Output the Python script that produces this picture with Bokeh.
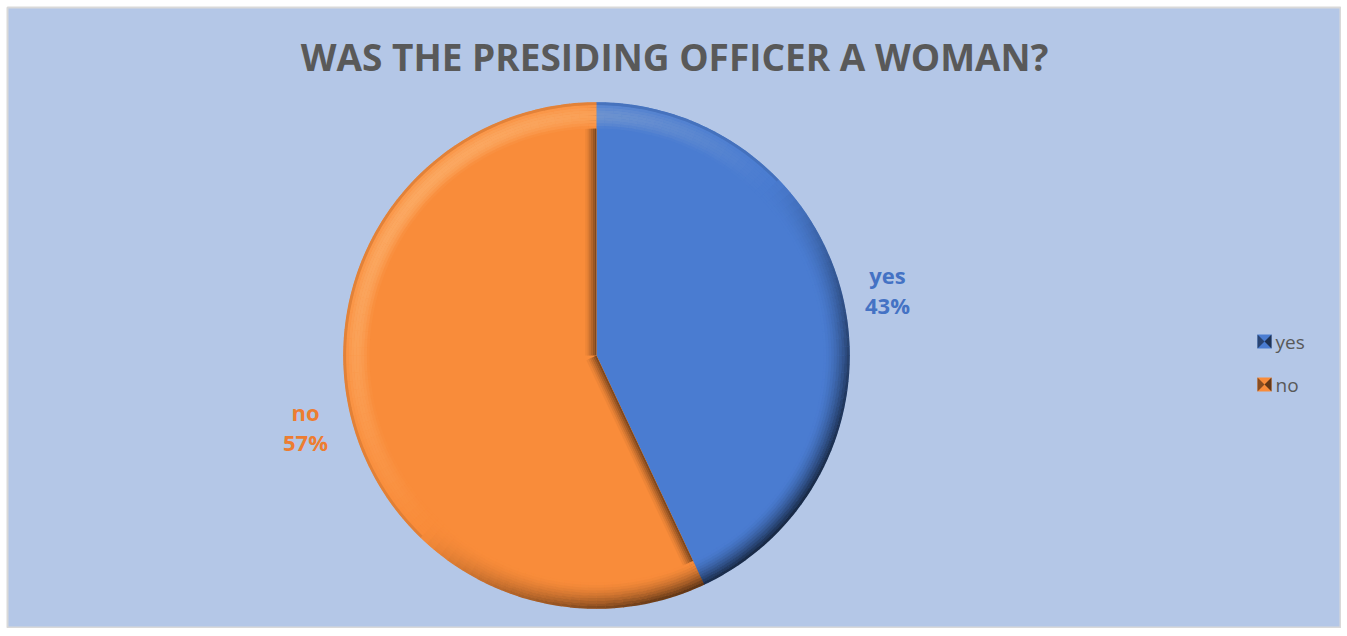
import math
from bokeh.plotting import figure
from bokeh.models import Range1d, ColumnDataSource
from bokeh.core.properties import value
from bokeh.embed import file_html
from bokeh.resources import INLINE

# ---- data ----
title = "WAS THE PRESIDING OFFICER A WOMAN?"
categories = ["yes", "no"]
percents = [43, 57]
colors = ["#4A7CD1", "#F98C3A"]
label_colors = ["#4472C4", "#ED7D31"]

W, H = 1341, 628
OFF = 7
BG = "#B4C7E7"
FONT = "Open Sans"

def iy(img_y):
    return 636 - img_y

p = figure(width=W, height=H, output_backend="svg", toolbar_location=None,
           x_range=Range1d(OFF, W), y_range=Range1d(636 - H, 636 - OFF),
           x_axis_location=None, y_axis_location=None,
           min_border_left=OFF, min_border_top=OFF, min_border_right=0, min_border_bottom=0)
p.grid.visible = False
p.background_fill_color = BG
p.border_fill_color = "white"
p.outline_line_color = "#D9D9D9"
p.outline_line_width = 2

cx, cy, R = 596, iy(355), 253

def hex2rgb(h):
    h = h.lstrip("#")
    return [int(h[i:i + 2], 16) for i in (0, 2, 4)]

def rgb2hex(c):
    return "#%02x%02x%02x" % tuple(max(0, min(255, int(round(v)))) for v in c)

def mix(a, b, t):
    return [a[i] + (b[i] - a[i]) * t for i in range(3)]

# slice angles (clockwise from 12 o'clock)
total = sum(percents)
starts, ends = [], []
a = math.pi / 2
for v in percents:
    starts.append(a)
    a = a - 2 * math.pi * v / total
    ends.append(a)

src = ColumnDataSource(dict(start=starts, end=ends, color=colors))
p.wedge(x=cx, y=cy, radius=R, start_angle="start", end_angle="end",
        direction="clock", fill_color="color", line_color=None, source=src)

# radial edge bevels on the "no" slice side
no_base = hex2rgb(colors[1])
dark = [c * 0.35 for c in no_base]
xs_l, ys_l, cs_l = [], [], []
for phi, side in ((starts[0], 1), (ends[0], -1)):
    ux, uy = math.cos(phi), math.sin(phi)
    if side == 1:
        px_, py_ = -uy, ux
    else:
        px_, py_ = uy, -ux
    NS = 6
    for k in range(NS):
        o1, o2 = k * 1.8, (k + 1) * 1.8 + 0.4
        L1 = math.sqrt(R * R - o1 * o1) - 4
        L2 = math.sqrt(R * R - o2 * o2) - 4
        xs_l.append([cx + px_ * o1, cx + ux * L1 + px_ * o1,
                     cx + ux * L2 + px_ * o2, cx + px_ * o2])
        ys_l.append([cy + py_ * o1, cy + uy * L1 + py_ * o1,
                     cy + uy * L2 + py_ * o2, cy + py_ * o2])
        cs_l.append(rgb2hex(mix(no_base, dark, 0.75 * (1 - k / NS) ** 1.3)))
p.patches(xs=xs_l, ys=ys_l, fill_color=cs_l, line_color=None)

# rim bevel shading
def slice_of(theta):
    off = (math.pi / 2 - theta) % (2 * math.pi)
    acc = 0
    for i, v in enumerate(percents):
        acc += 2 * math.pi * v / total
        if off < acc:
            return i
    return len(percents) - 1

rim = dict(ir=[], orad=[], s=[], e=[], c=[])
NR = 10
RW = 26
nseg = 180
seg = 2 * math.pi / nseg
bounds = [s % (2 * math.pi) for s in starts]
for k in range(NR):
    r0 = R - RW + RW * k / NR
    r1 = R - RW + RW * (k + 1) / NR
    t = (k + 0.5) / NR
    # split segments at slice boundaries so colours do not leak across
    cuts = sorted(set([j * seg for j in range(nseg)] + bounds + [2 * math.pi]))
    for j in range(len(cuts) - 1):
        s, e = cuts[j], cuts[j + 1]
        if e - s < 1e-6:
            continue
        mid = (s + e) / 2
        base = hex2rgb(colors[slice_of(mid)])
        d = math.cos(mid - math.radians(135))
        if d < 0:
            col = mix(base, [c * 0.2 for c in base], (-d) * (t ** 1.6) * 0.9)
        else:
            col = mix(base, [255, 240, 200], d * 0.28 * math.sin(math.pi * t))
            if t > 0.85:
                col = mix(col, [c * 0.6 for c in base], 0.35 * (t - 0.85) / 0.15)
        rim["ir"].append(r0)
        rim["orad"].append(r1 + 0.3)
        rim["s"].append(s)
        rim["e"].append(e + 0.0015)
        rim["c"].append(rgb2hex(col))
p.annular_wedge(x=cx, y=cy, inner_radius="ir", outer_radius="orad",
                start_angle="s", end_angle="e", fill_color="c", line_color=None,
                source=ColumnDataSource(rim))

# data labels
lab_x = [887, 305]
lab_y = [iy(274), iy(411)]
for i, cat in enumerate(categories):
    p.text(x=[lab_x[i]], y=[lab_y[i]], text=[cat], text_align="center",
           text_baseline="middle", text_font=value(FONT), text_font_style="bold",
           text_font_size="22px", text_color=label_colors[i])
    p.text(x=[lab_x[i]], y=[lab_y[i] - 30], text=["%d%%" % percents[i]],
           text_align="center", text_baseline="middle", text_font=value(FONT),
           text_font_style="bold", text_font_size="22px", text_color=label_colors[i])

# title
p.text(x=[674], y=[iy(56)], text=[title], text_align="center", text_baseline="middle",
       text_font=value(FONT), text_font_style="bold", text_font_size="37px",
       text_color="#595959")

# legend
leg_y = [iy(341), iy(384)]
for i, cat in enumerate(categories):
    base = hex2rgb(colors[i])
    lx, ly, hs = 1264, leg_y[i], 7
    p.rect(x=[lx], y=[ly], width=14, height=14, fill_color=colors[i], line_color=None)
    p.patches(xs=[[lx - hs, lx, lx - hs], [lx + hs, lx, lx + hs]],
              ys=[[ly - hs, ly, ly + hs], [ly - hs, ly, ly + hs]],
              fill_color=[rgb2hex(mix(base, [0, 0, 0], 0.45)), rgb2hex(mix(base, [0, 0, 0], 0.6))],
              line_color=None)
    p.text(x=[1275], y=[ly], text=[cat], text_align="left", text_baseline="middle",
           text_font=value(FONT), text_font_size="19px", text_color="#595959")

open("out.html", "w").write(file_html(p, INLINE))
